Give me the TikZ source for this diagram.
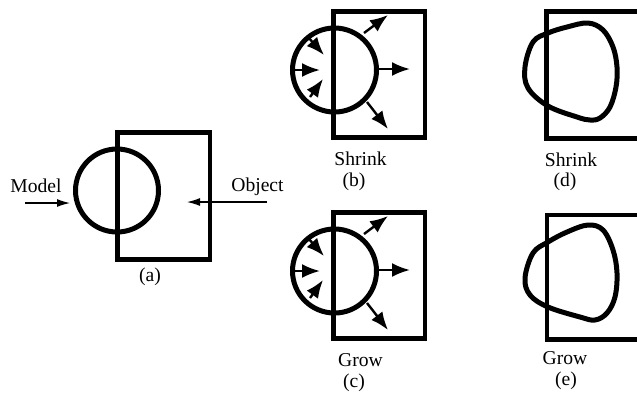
\documentclass[tikz,border=0pt]{standalone}
\usepackage{fontspec}
\setmainfont{Liberation Serif}
\usetikzlibrary{arrows.meta}

\tikzset{
  box/.style={line width=2.3pt},
  blob/.style={line width=2.5pt, line join=round},
  push/.style={line width=1.2pt, -{Latex[length=9pt,width=7pt]}},
  feed/.style={line width=0.6pt, -{Latex[length=6.5pt,width=4pt]}},
  lbl/.style={inner sep=0pt, font=\fontsize{9.8}{11}\selectfont}
}

\begin{document}
\begin{tikzpicture}[x=0.5pt, y=-0.5pt]
\useasboundingbox (0,0) rectangle (637,393);
\clip (0,0) rectangle (637,393);

% (a) model against object
\draw[box] (117.5,132.5) rectangle (210,259.5);
\draw[blob] (117,190.5) circle[radius=20.75pt];
\node[lbl] (model) at (36,186) {Model};
\node[lbl] (object) at (257.5,187) {Object};
\coordinate (modeltail) at (25,203);
\coordinate (modeltip) at (70,203);
\coordinate (objecttail) at (267,202);
\coordinate (objecttip) at (187,202);
\draw[feed] (modeltail) -- (modeltip);
\draw[feed] (objecttail) -- (objecttip);
\node[lbl] (tag-a) at (150,277) {(a)};

% (b) and (c) forces on the circle
\foreach \cy/\word/\tag in {70/Shrink/b, 271/Grow/c} {
  \begin{scope}[shift={(334.5,\cy)}]
    \draw[box] (-1,-58.5) rectangle (90.5,67.5);
    \draw[blob] (0,0) circle[radius=21pt];
    % inward
    \draw[push] (-26.5,-33) -- (-10.5,-15);
    \draw[push] (-43,0) -- (-14.5,0);
    \draw[push] (-24.5,27) -- (-11.5,9);
    % outward
    \draw[push] (29.5,-37) -- (53.5,-55);
    \draw[push] (43.5,-1) -- (75.5,-1);
    \draw[push] (32.5,32) -- (53.5,59);
    \node[lbl] (word-\tag) at (26,89) {\word};
    \node[lbl] (tag-\tag) at (19.5,111.5) {(\tag)};
  \end{scope}
}

% (d) after shrinking
\draw[box] (546.5,11.5) rectangle (645,138.5);
\draw[blob] plot[smooth cycle, tension=0.6] coordinates {
  (548,33) (567,27) (588,23) (603,30) (613,47) (617,67) (616,87)
  (610,107) (600,118) (590,120) (577,117) (548,106) (528,88)
  (525,67) (533,42)};
\node[lbl] (word-d) at (571,160) {Shrink};
\node[lbl] (tag-d) at (565,182) {(d)};

% (e) after growing
\draw[box] (547,215) rectangle (645,339.5);
\draw[blob] plot[smooth cycle, tension=0.6] coordinates {
  (548,242) (567,232) (588,225) (603,230) (613,250) (617,273)
  (615,297) (607,313) (595,320) (580,317) (548,307) (530,295)
  (525,278) (533,253)};
\node[lbl] (word-e) at (565,358) {Grow};
\node[lbl] (tag-e) at (566,381) {(e)};

\end{tikzpicture}
\end{document}
